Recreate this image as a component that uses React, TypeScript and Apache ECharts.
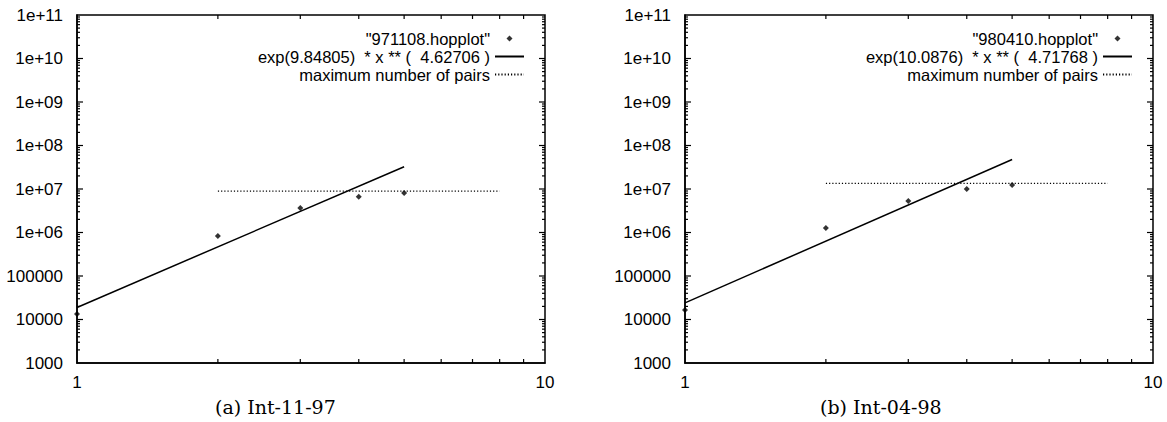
import React, { useEffect, useRef } from "react";
import * as echarts from "echarts";

// ---- data ----
const hopX = [1, 2, 3, 4, 5];
const hopA = [13400, 830000, 3650000, 6600000, 8100000];
const hopB = [16500, 1270000, 5300000, 10000000, 12300000];

const fitX = [1, 5];
const fitA = [18935, 32500000];
const fitB = [24060, 47800000];

const maxPairsX = [2, 8];
const maxPairsA = 8900000;
const maxPairsB = 13400000;

const nameHopA = '"971108.hopplot"';
const nameFitA = "exp(9.84805)  * x ** (  4.62706 )";
const nameHopB = '"980410.hopplot"';
const nameFitB = "exp(10.0876)  * x ** (  4.71768 )";
const nameMax = "maximum number of pairs";

const yTickLabels = ["1000", "10000", "100000", "1e+06", "1e+07", "1e+08", "1e+09", "1e+10", "1e+11"];
const yExponents = [3, 4, 5, 6, 7, 8, 9, 10, 11];
const xTickLabels = ["1", "10"];
const xMinorTicks = [2, 3, 4, 5, 6, 7, 8, 9];
const yMinorMultipliers = [2, 3, 4, 5, 6, 7, 8, 9];
const captions = ["(a) Int-11-97", "(b) Int-04-98"];

const SANS = "'Liberation Sans', Arial, Helvetica, sans-serif";
const SERIF = "'DejaVu Serif', serif";
const DIAMOND = "path://M0,-1L1,0L0,1L-1,0Z";

function tickData() {
  const d: number[][] = [];
  xMinorTicks.forEach((v) => d.push([v, 1000, 0, 4]));
  yExponents.forEach((e) => {
    if (e > 3 && e < 11) d.push([1, Math.pow(10, e), 1, 6]);
    if (e < 11) yMinorMultipliers.forEach((m) => d.push([1, m * Math.pow(10, e), 1, 3]));
  });
  return d;
}

function renderTick(params: any, api: any) {
  const x = api.value(0);
  const y = api.value(1);
  const kind = api.value(2);
  const len = api.value(3);
  const st = { stroke: "#000", lineWidth: 1.2 };
  if (kind === 0) {
    const pb = api.coord([x, 1000]);
    const pt = api.coord([x, 1e11]);
    return {
      type: "group",
      children: [
        { type: "line", shape: { x1: pb[0], y1: pb[1], x2: pb[0], y2: pb[1] - len }, style: st },
        { type: "line", shape: { x1: pt[0], y1: pt[1], x2: pt[0], y2: pt[1] + len }, style: st },
      ],
    };
  }
  const pl = api.coord([1, y]);
  const pr = api.coord([10, y]);
  return {
    type: "group",
    children: [
      { type: "line", shape: { x1: pl[0], y1: pl[1], x2: pl[0] + len, y2: pl[1] }, style: st },
      { type: "line", shape: { x1: pr[0], y1: pr[1], x2: pr[0] - len, y2: pr[1] }, style: st },
    ],
  };
}

function yLabel(v: number) {
  const e = Math.round(Math.log10(v));
  const i = yExponents.indexOf(e);
  return i >= 0 && Math.abs(Math.log10(v) - e) < 1e-6 ? yTickLabels[i] : "";
}
function xLabel(v: number) {
  const e = Math.log10(v);
  if (Math.abs(e - Math.round(e)) > 1e-6) return "";
  return xTickLabels[Math.round(e)] ?? "";
}

export default function App() {
  const ref = useRef<HTMLDivElement>(null);
  useEffect(() => {
    if (!ref.current) return;
    const chart = echarts.init(ref.current, undefined, { renderer: "svg" });
    const grids = [
      { left: 77, top: 15, width: 468, height: 348 },
      { left: 685, top: 15, width: 468, height: 348 },
    ];
    const xAxis = grids.map((_, i) => ({
      type: "log",
      logBase: 10,
      gridIndex: i,
      min: 1,
      max: 10,
      splitNumber: 1,
      axisLine: { show: true, lineStyle: { color: "#000", width: 1.5 } },
      axisTick: { show: false },
      splitLine: { show: false },
      axisLabel: { color: "#000", fontFamily: SANS, fontSize: 17, margin: 11, formatter: xLabel },
    }));
    const yAxis = grids.map((_, i) => ({
      type: "log",
      logBase: 10,
      gridIndex: i,
      min: 1000,
      max: 1e11,
      splitNumber: 8,
      axisLine: { show: true, lineStyle: { color: "#000", width: 1.5 } },
      axisTick: { show: false },
      splitLine: { show: false },
      axisLabel: { color: "#000", fontFamily: SANS, fontSize: 17, margin: 14, formatter: yLabel, showMinLabel: true, showMaxLabel: true },
    }));
    const mk = (i: number, hop: number[], fit: number[], maxv: number, nHop: string, nFit: string) => [
      {
        type: "scatter",
        name: nHop,
        xAxisIndex: i,
        yAxisIndex: i,
        symbol: "diamond",
        symbolSize: 6,
        itemStyle: { color: "#000" },
        data: hopX.map((x, k) => [x, hop[k]]),
      },
      {
        type: "line",
        name: nFit,
        xAxisIndex: i,
        yAxisIndex: i,
        symbol: "none",
        lineStyle: { color: "#000", width: 1.5 },
        itemStyle: { color: "#000" },
        data: fitX.map((x, k) => [x, fit[k]]),
      },
      {
        type: "line",
        name: nameMax,
        xAxisIndex: i,
        yAxisIndex: i,
        symbol: "none",
        lineStyle: { color: "#000", width: 1.2, type: [1.2, 2] },
        itemStyle: { color: "#000" },
        data: maxPairsX.map((x) => [x, maxv]),
      },
      {
        type: "custom",
        xAxisIndex: i,
        yAxisIndex: i,
        silent: true,
        encode: { x: 0, y: 1 },
        renderItem: renderTick,
        data: tickData(),
      },
    ];
    const legendBase = {
      orient: "vertical",
      align: "right",
      itemWidth: 29,
      itemHeight: 6,
      itemGap: 1,
      selectedMode: false,
      symbolKeepAspect: true,
      textStyle: { color: "#000", fontFamily: SANS, fontSize: 16.5 },
    };
    const legendData = (nHop: string, nFit: string) => [
      { name: nHop, icon: DIAMOND },
      { name: nFit, itemStyle: { opacity: 0 } },
      { name: nameMax, itemStyle: { opacity: 0 } },
    ];
    chart.setOption({
      animation: false,
      grid: grids.map((g) => ({ ...g, show: true, borderColor: "#000", borderWidth: 1.5, backgroundColor: "transparent" })),
      xAxis,
      yAxis,
      legend: [
        { ...legendBase, right: 637, top: 25, data: legendData(nameHopA, nameFitA) },
        { ...legendBase, right: 29, top: 25, data: legendData(nameHopB, nameFitB) },
      ],
      series: [
        ...mk(0, hopA, fitA, maxPairsA, nameHopA, nameFitA),
        ...mk(1, hopB, fitB, maxPairsB, nameHopB, nameFitB),
      ],
      graphic: [
        { type: "text", left: 281 - 66, top: 397, style: { text: captions[0], font: `19px ${SERIF}`, fill: "#000" } },
        { type: "text", left: 889 - 69, top: 397, style: { text: captions[1], font: `19px ${SERIF}`, fill: "#000" } },
      ],
    });
    return () => chart.dispose();
  }, []);
  return <div ref={ref} style={{ position: "absolute", left: 0, top: 0, width: 1167, height: 422 }} />;
}
